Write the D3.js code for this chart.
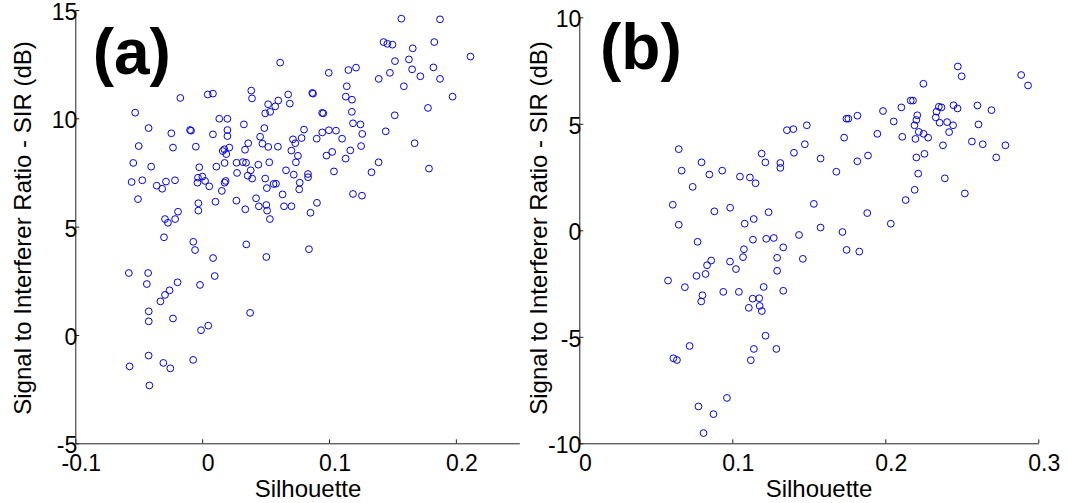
<!DOCTYPE html>
<html>
<head>
<meta charset="utf-8">
<script src="https://cdn.jsdelivr.net/npm/d3@7"></script>
<style>
  html, body { margin: 0; padding: 0; background: #ffffff; }
  svg { display: block; }
  text { font-family: "Liberation Sans", Arial, Helvetica, sans-serif; fill: #000; }
</style>
</head>
<body>
<svg id="chart" width="1068" height="503"></svg>
<script>
// Panel (a): silhouette vs. SIR
const silA = [0.157,0.1875,0.143,0.146,0.150,0.183,0.166,0.2115,0.0615,0.152,0.163,0.1655,0.1823,0.148,0.0998,0.1153,0.1213,0.1392,0.172,0.1875,
  0.159,0.114,0.1974,0.1132,0.1181,0.0868,0.0874,0.0678,0.0691,0.060,0.0576,0.052,0.0536,0.0497,0.0387,0.0393,0.0044,0.0085,-0.0172,-0.0528,
  0.178,0.118,0.0946,0.0955,0.1518,0.0135,0.0199,-0.0422,-0.0095,-0.0088,0.0199,0.0199,0.0085,-0.0243,0.0329,0.049,0.0457,0.0803,0.0999,0.1055,
  0.0947,0.0903,0.0716,0.0784,0.0734,0.1103,0.1248,0.1189,0.1262,0.1447,0.1675,0.1253,0.1168,0.1025,0.098,0.1131,0.1335,0.1391,0.1788,0.1039,
  0.1189,0.126,0.0905,0.0854,0.0842,-0.050,-0.0543,-0.0402,-0.0556,-0.0472,-0.0506,-0.0358,-0.0315,-0.0285,-0.0214,-0.023,-0.005,-0.0023,-0.0033,0.0002,
  -0.0037,0.0023,0.0056,-0.003,-0.003,0.0105,0.0112,0.0162,0.0175,0.019,0.0214,0.0177,0.0185,0.0177,0.0155,0.0271,0.0321,0.0346,0.0275,0.0359,
  0.0383,0.0394,0.0338,0.0363,0.0443,0.0475,0.0521,0.0597,0.0529,0.0497,0.051,0.0563,0.0582,0.027,0.034,0.0425,0.0447,0.0506,0.0512,0.0534,
  0.0634,0.0645,0.0704,0.0661,0.0722,0.0739,0.0755,0.0703,0.0769,0.0765,0.0834,0.0835,-0.019,-0.0293,-0.027,-0.0213,-0.0301,-0.007,-0.0056,0.0086,
  0.0348,0.0506,-0.0578,-0.0426,-0.0436,-0.0194,-0.0257,-0.0293,-0.0329,-0.0017,0.0099,-0.0421,-0.0421,-0.023,0.0048,-0.0009,0.0378,-0.0422,-0.0306,-0.0251,
  -0.0572,-0.0071,-0.0416];
const sirA = [14.60,14.57,13.52,13.44,13.40,13.52,13.23,12.85,12.57,12.64,12.72,12.26,12.35,12.10,12.10,12.23,12.34,11.82,11.94,11.82,
  11.48,11.48,11.00,11.00,10.86,11.17,11.14,11.10,10.68,10.82,10.55,10.65,10.30,10.23,11.28,10.92,11.10,11.14,10.94,10.26,
  10.48,10.30,10.25,10.23,10.14,9.98,9.98,9.55,9.46,9.43,9.46,9.18,9.26,9.31,9.72,9.55,9.15,9.48,9.45,9.43,
  9.35,9.06,9.03,9.09,8.85,9.06,9.72,9.77,9.28,9.40,8.85,8.72,8.52,8.45,8.28,8.14,7.51,7.97,7.68,7.55,
  6.51,6.43,6.10,5.64,3.96,8.72,7.94,7.77,7.06,7.14,6.27,6.89,6.75,7.08,7.14,8.65,8.69,7.74,7.26,7.31,
  7.03,7.11,6.86,6.08,5.74,6.15,7.77,8.49,8.57,8.35,8.65,7.94,7.11,7.03,6.65,7.95,7.98,7.95,7.48,7.35,
  7.60,7.22,8.55,8.85,7.86,8.83,8.68,8.69,7.97,7.22,6.78,6.97,6.98,6.20,5.80,6.31,5.94,6.00,5.74,5.35,
  6.49,5.94,5.94,7.60,7.40,7.97,8.27,8.51,7.03,6.72,7.43,7.28,5.69,5.35,5.18,5.35,4.51,4.30,3.92,3.55,
  4.18,3.60,2.86,2.86,2.35,2.43,2.06,1.85,1.55,2.31,2.72,1.09,0.63,0.76,0.43,0.22,1.02,-0.95,-1.29,-1.54,
  -1.45,-1.15,-2.33];

// Panel (b): silhouette vs. SIR
const silB = [0.2474,0.2499,0.2888,0.2933,0.2249,0.2166,0.2181,0.2105,0.1985,0.2055,0.2111,0.1948,0.1818,0.1746,0.1759,0.1731,0.2209,0.2203,0.2191,0.2197,
  0.2219,0.2250,0.2280,0.2335,0.2330,0.2350,0.2367,0.2355,0.2404,0.2443,0.2417,0.2446,0.2472,0.2602,0.2694,0.2609,0.2566,0.2637,0.2785,0.2725,
  0.2377,0.2256,0.2203,0.2215,0.2389,0.2520,0.2192,0.2133,0.1887,0.1817,0.1680,0.1882,0.2036,0.1577,0.1487,0.1474,0.1399,0.1357,0.1403,0.1192,
  0.1216,0.1314,0.1314,0.1050,0.1115,0.1152,0.0934,0.0850,0.0799,0.0650,0.0669,0.0741,0.0611,0.0650,0.0883,0.0986,0.1237,0.1081,0.1140,0.1533,
  0.1577,0.1720,0.1747,0.1830,0.1436,0.1461,0.0773,0.1135,0.1222,0.1271,0.1333,0.1076,0.1070,0.1293,0.1293,0.0985,0.1024,0.0862,0.0835,0.0825,
  0.0766,0.0580,0.0690,0.0805,0.0797,0.0941,0.1043,0.1205,0.1333,0.1133,0.1176,0.1108,0.1179,0.1193,0.1217,0.1141,0.1288,0.0721,0.0615,0.0638,
  0.1121,0.0965,0.0779,0.0877,0.0812];
const sirB = [7.69,7.23,7.29,6.80,6.88,6.09,6.09,5.77,5.60,5.11,4.39,4.53,5.38,5.24,5.24,4.35,5.40,5.18,4.93,4.29,
  4.62,4.53,4.35,5.57,5.30,5.80,5.77,5.05,5.08,4.93,4.61,5.87,5.72,5.86,5.64,4.97,4.17,4.04,3.99,3.42,
  3.99,3.59,3.42,2.66,2.44,1.73,1.90,1.42,3.51,3.24,2.75,0.81,0.31,3.37,4.93,4.04,4.75,4.70,3.64,3.60,
  3.19,3.16,2.93,2.52,2.48,2.21,2.80,2.62,3.19,3.81,2.80,2.04,1.20,0.26,0.89,1.06,0.85,0.31,0.53,1.24,
  0.13,-0.08,-0.92,-1.00,-0.22,-1.34,-0.54,-0.44,-0.40,-0.36,-0.80,-0.89,-1.26,-1.29,-1.90,-1.47,-1.82,-1.42,-1.64,-2.05,
  -2.14,-2.36,-2.67,-3.05,-3.34,-2.89,-2.89,-2.66,-2.84,-3.21,-3.19,-3.64,-3.55,-3.79,-4.95,-5.57,-5.57,-5.43,-6.01,-6.09,
  -6.10,-7.87,-8.27,-8.63,-9.52];

// Axis ticks
const xTicksA = [-0.1, 0, 0.1, 0.2];
const yTicksA = [-5, 0, 5, 10, 15];
const xTicksB = [0, 0.1, 0.2, 0.3];
const yTicksB = [-10, -5, 0, 5, 10];

// Text
const yTitle = "Signal to Interferer Ratio - SIR (dB)";
const xTitle = "Silhouette";
const panelTags = ["(a)", "(b)"];

const svg = d3.select("#chart");
svg.append("rect").attr("width", 1068).attr("height", 503).attr("fill", "#fff");

const panels = [
  {
    xs: d3.scaleLinear().domain([-0.1, 0.25]).range([75.3, 519.3]),
    ys: d3.scaleLinear().domain([-5, 15]).range([443.3, 10]),
    sx: silA, sy: sirA, xt: xTicksA, yt: yTicksA,
    tag: panelTags[0], tagX: 92.7, tagY: 73.5,
    yTitleX: 30.5, xTitleX: 308
  },
  {
    xs: d3.scaleLinear().domain([0, 0.3]).range([579.3, 1038.3]),
    ys: d3.scaleLinear().domain([-10, 10]).range([443.3, 17.3]),
    sx: silB, sy: sirB, xt: xTicksB, yt: yTicksB,
    tag: panelTags[1], tagX: 600, tagY: 68.5,
    yTitleX: 547, xTitleX: 819
  }
];

panels.forEach(p => {
  const g = svg.append("g");
  const [x0, x1] = p.xs.range();
  const [yb, yt] = p.ys.range();

  // bottom axis, ticks pointing inward
  const ax = g.append("g")
    .attr("transform", `translate(0,${yb})`)
    .call(d3.axisBottom(p.xs).tickValues(p.xt).tickFormat(d => String(d))
      .tickSizeInner(-4).tickSizeOuter(0).tickPadding(11.5));
  ax.selectAll("text").attr("x", 5.5).style("font-size", "23px");

  // left axis, ticks pointing inward
  const ay = g.append("g")
    .attr("transform", `translate(${x0},0)`)
    .call(d3.axisLeft(p.ys).tickValues(p.yt).tickFormat(d => String(d))
      .tickSizeInner(-4).tickSizeOuter(0).tickPadding(0));
  ay.selectAll("text").attr("x", 2).attr("y", 2).style("font-size", "23px");

  g.selectAll(".domain, .tick line").attr("stroke", "#222").attr("stroke-width", 1);
  g.selectAll(".tick text").attr("fill", "#000")
    .style("font-family", '"Liberation Sans", Arial, sans-serif');

  // scatter markers
  g.append("g").selectAll("circle")
    .data(p.sx.map((v, i) => [v, p.sy[i]]))
    .join("circle")
    .attr("cx", d => p.xs(d[0]))
    .attr("cy", d => p.ys(d[1]))
    .attr("r", 3.4)
    .attr("fill", "none")
    .attr("stroke", "#0000ff")
    .attr("stroke-width", 1);

  // axis titles
  g.append("text")
    .attr("transform", `translate(${p.yTitleX},228) rotate(-90)`)
    .attr("text-anchor", "middle")
    .style("font-size", "24px")
    .text(yTitle);
  g.append("text")
    .attr("x", p.xTitleX).attr("y", 497)
    .attr("text-anchor", "middle")
    .style("font-size", "24px")
    .text(xTitle);

  // panel tag
  g.append("text")
    .attr("x", p.tagX).attr("y", p.tagY)
    .style("font-size", "64px").style("font-weight", "bold")
    .text(p.tag);
});
</script>
</body>
</html>
